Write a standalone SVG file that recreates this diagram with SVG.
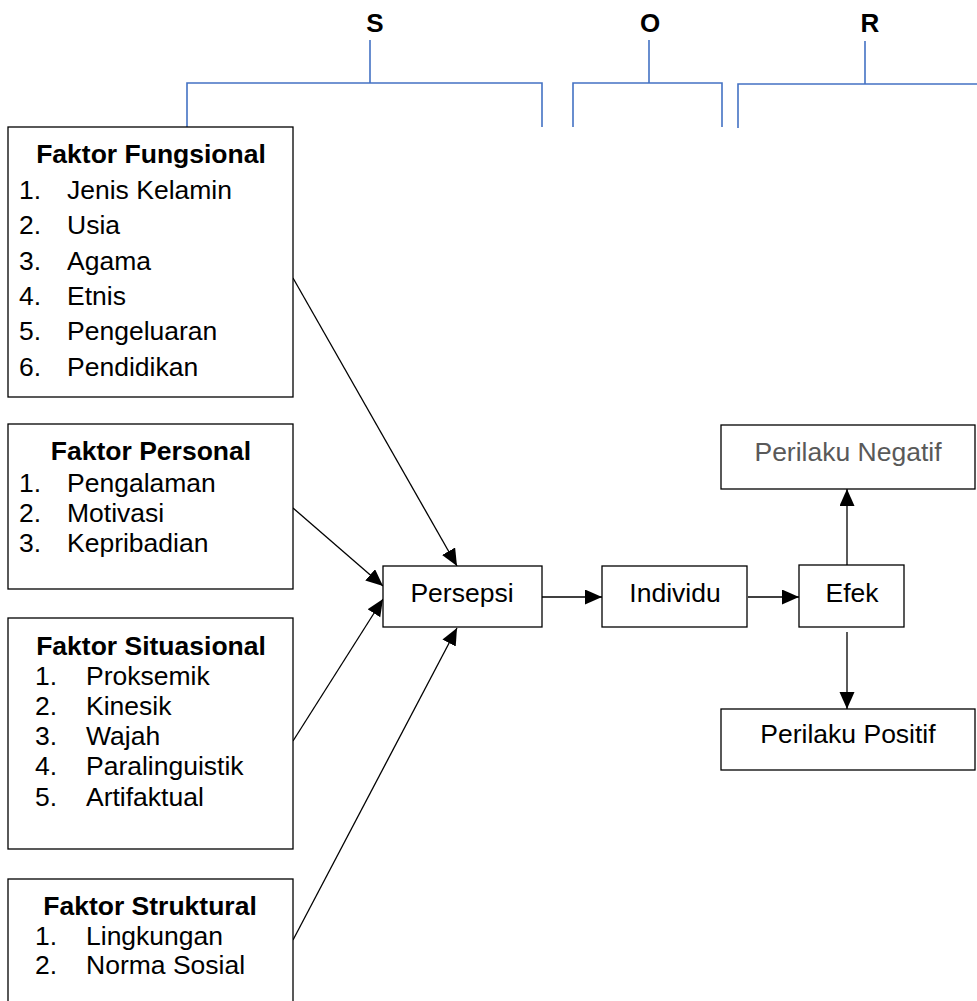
<svg xmlns="http://www.w3.org/2000/svg" width="977" height="1001" viewBox="0 0 977 1001">
<defs>
<style>
.box{fill:#fff;stroke:#000;stroke-width:1.3}
.t{font-family:"Liberation Sans",Arial,sans-serif;font-size:26.5px;fill:#000}
.tb{font-family:"Liberation Sans",Arial,sans-serif;font-size:26.5px;font-weight:bold;fill:#000;text-anchor:middle}
.sor{font-family:"Liberation Sans",Arial,sans-serif;font-size:26px;font-weight:bold;fill:#000;text-anchor:middle}
.c{text-anchor:middle}
.br{fill:none;stroke:#4472C4;stroke-width:1.6}
.arr{fill:none;stroke:#000;stroke-width:1.3;marker-end:url(#ah)}
</style>
<marker id="ah" markerUnits="userSpaceOnUse" markerWidth="18" markerHeight="16" refX="17" refY="7.5" orient="auto">
<path d="M0,0 L17,7.5 L0,15 z" fill="#000"/>
</marker>
</defs>
<rect width="977" height="1001" fill="#fff"/>
<g id="sor-labels">
<text class="sor" x="375" y="32">S</text>
<text class="sor" x="650" y="32">O</text>
<text class="sor" x="870" y="32">R</text>
</g>
<g id="brackets">
<path class="br" d="M370,40 V83 M187,127 V83 H542 V127"/>
<path class="br" d="M649,40 V83 M573,127 V83 H722 V127"/>
<path class="br" d="M865,41 V84 M738,128 V84 H977"/>
</g>
<g id="connectors">
<line class="arr" x1="293" y1="278" x2="457" y2="566"/>
<line class="arr" x1="293" y1="508" x2="383" y2="586"/>
<line class="arr" x1="293" y1="741" x2="383" y2="599"/>
<line class="arr" x1="293" y1="940" x2="457" y2="628"/>
<line class="arr" x1="542" y1="597" x2="602" y2="597"/>
<line class="arr" x1="748" y1="597" x2="799" y2="597"/>
<line class="arr" x1="847" y1="569" x2="847" y2="489"/>
<line class="arr" x1="847" y1="632" x2="847" y2="709"/>
</g>
<g id="faktor-fungsional">
<rect class="box" x="8" y="127" width="285" height="270"/>
<text class="tb" x="151" y="163">Faktor Fungsional</text>
<text class="t" x="19" y="199">1.</text><text class="t" x="67" y="199">Jenis Kelamin</text>
<text class="t" x="19" y="234">2.</text><text class="t" x="67" y="234">Usia</text>
<text class="t" x="19" y="270">3.</text><text class="t" x="67" y="270">Agama</text>
<text class="t" x="19" y="305">4.</text><text class="t" x="67" y="305">Etnis</text>
<text class="t" x="19" y="340">5.</text><text class="t" x="67" y="340">Pengeluaran</text>
<text class="t" x="19" y="376">6.</text><text class="t" x="67" y="376">Pendidikan</text>
</g>
<g id="faktor-personal">
<rect class="box" x="8" y="424" width="285" height="165"/>
<text class="tb" x="151" y="460">Faktor Personal</text>
<text class="t" x="19" y="492">1.</text><text class="t" x="67" y="492">Pengalaman</text>
<text class="t" x="19" y="522">2.</text><text class="t" x="67" y="522">Motivasi</text>
<text class="t" x="19" y="552">3.</text><text class="t" x="67" y="552">Kepribadian</text>
</g>
<g id="faktor-situasional">
<rect class="box" x="8" y="618" width="285" height="231"/>
<text class="tb" x="151" y="655">Faktor Situasional</text>
<text class="t" x="35" y="685">1.</text><text class="t" x="86" y="685">Proksemik</text>
<text class="t" x="35" y="715">2.</text><text class="t" x="86" y="715">Kinesik</text>
<text class="t" x="35" y="745">3.</text><text class="t" x="86" y="745">Wajah</text>
<text class="t" x="35" y="775">4.</text><text class="t" x="86" y="775">Paralinguistik</text>
<text class="t" x="35" y="806">5.</text><text class="t" x="86" y="806">Artifaktual</text>
</g>
<g id="faktor-struktural">
<rect class="box" x="8" y="879" width="285" height="140"/>
<text class="tb" x="150" y="915">Faktor Struktural</text>
<text class="t" x="35" y="945">1.</text><text class="t" x="86" y="945">Lingkungan</text>
<text class="t" x="35" y="974">2.</text><text class="t" x="86" y="974">Norma Sosial</text>
</g>
<g id="persepsi">
<rect class="box" x="383" y="566" width="159" height="61"/>
<text class="t c" x="462" y="602">Persepsi</text>
</g>
<g id="individu">
<rect class="box" x="602" y="566" width="145" height="61"/>
<text class="t c" x="675" y="602">Individu</text>
</g>
<g id="efek">
<rect class="box" x="799" y="565" width="105" height="62"/>
<text class="t c" x="852" y="602">Efek</text>
</g>
<g id="perilaku-negatif">
<rect class="box" x="721" y="425" width="254" height="64"/>
<text class="t c" x="848" y="461" style="fill:#595959">Perilaku Negatif</text>
</g>
<g id="perilaku-positif">
<rect class="box" x="721" y="709" width="254" height="61"/>
<text class="t c" x="848" y="743">Perilaku Positif</text>
</g>
</svg>
